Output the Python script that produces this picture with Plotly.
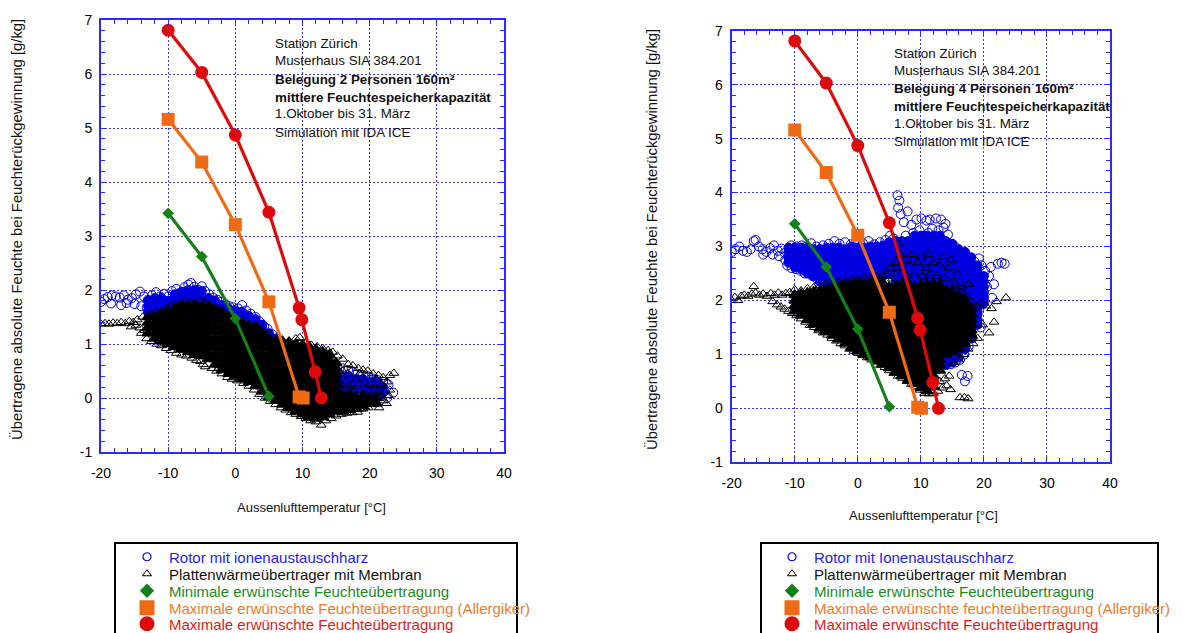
import plotly.graph_objects as go

W, H = 1196, 633          # reference picture size
OFF = 8                   # page body margin of the html page
FW, FH = W - OFF, H - OFF  # figure size so that it ends at the window edge
FONT = "Liberation Sans, Arial, sans-serif"

# ---------------- axes ----------------
x_tickvals = [-20, -10, 0, 10, 20, 30, 40]
x_ticktext = ["-20", "-10", "0", "10", "20", "30", "40"]
y_tickvals = [-1, 0, 1, 2, 3, 4, 5, 6, 7]
y_ticktext = ["-1", "0", "1", "2", "3", "4", "5", "6", "7"]

# ---------------- target curves (identical in both panels) ----------------
min_T = [-10, -5, 0, 5]
min_X = [3.42, 2.62, 1.47, 0.03]
allerg_T = [-10, -5, 0, 5, 9.5, 10.1]
allerg_X = [5.16, 4.37, 3.21, 1.78, 0.02, 0.0]
max_T = [-10, -5, 0, 5, 9.5, 9.9, 11.9, 12.8]
max_X = [6.81, 6.03, 4.87, 3.44, 1.67, 1.45, 0.48, 0.0]

# ---------------- LEFT panel: 2 persons ----------------
rotor_L_pts = [(-20,1.78),(-19.5,1.83),(-19,1.87),(-18.4,1.9),(-17.8,1.88),(-17.2,1.86),(-16.6,1.9),(-16,1.82),
    (-15.4,1.85),(-14.8,1.92),(-14.2,1.97),(-13.6,1.88),(-13,1.82),(-12.4,1.9),(-11.8,1.96),(-11.2,1.88),(-10.6,1.93),
    (-10,1.88),(-18.5,1.75),(-17,1.72),(-16.2,1.76),(-15,1.74),(-14,1.7),(-13.2,1.68),(-12.6,1.65),(-11.8,1.7),
    (-9.4,1.98),(-8.8,2.02),(-8.2,1.95),(-7.6,2.05),(-7.0,2.1),(-6.6,2.13),(-6.1,2.06),(-5.5,2.0),(-5.0,2.07),
    (-4.5,1.98),(-3.9,1.92),(-3.3,1.86),(-2.7,1.82),(-2.1,1.78),(-1.5,1.74),(-0.9,1.7),(-0.3,1.68),(0.4,1.66),
    (1.0,1.72),(1.6,1.62),(2.3,1.56),(3.0,1.5),(3.6,1.42),(4.3,1.32),(4.8,1.28),(5.5,1.18),(6.2,1.1),
    (11.8,0.8),(12.8,0.75),(13.8,0.7),(14.5,0.62),(15.2,0.58),(16,0.55),(16.8,0.52),(17.5,0.48),(18.2,0.45),
    (19,0.42),(19.8,0.4),(20.5,0.36),(21.2,0.33),(22,0.3),(22.8,0.25),(23.5,0.1),(22.2,0.12),(21.4,0.05),
    (20.6,0.0),(19.8,-0.02),(18.8,0.1),(17.8,0.2),(16.8,0.25),(15.8,0.3),(15,0.35),(16.3,0.05),(17.3,0.0),
    (18.3,0.3),(19.3,0.18),(20.3,0.22),(21.2,0.18),(22.6,0.0),(14.8,0.1),(15.6,-0.05),(15.5,0.45),(16.5,0.4),
    (17.5,0.35),(18.5,0.2),(19.5,0.3),(20.5,0.1),(21.7,0.22),(17,0.1),(18,0.05),(19,0.0)]
rotor_L_core = [(-13,[1.6,1.7,1.8]),(-12,[1.55,1.65,1.75,1.85]),(-11,[1.55,1.65,1.75,1.85]),(-10,[1.6,1.7,1.8]),
    (-9,[1.65,1.75,1.85,1.92]),(-8,[1.7,1.8,1.9,1.97]),(-7,[1.7,1.8,1.9,2.0]),(-6,[1.7,1.8,1.9,2.0]),
    (-5,[1.7,1.8,1.9,1.98]),(-4,[1.65,1.75,1.85]),(-3,[1.6,1.7,1.8]),(-2,[1.55,1.65,1.72]),(-1,[1.5,1.6,1.66]),
    (0,[1.45,1.55,1.62]),(1,[1.4,1.5,1.6]),(2,[1.35,1.45,1.52]),(3,[1.3,1.4,1.46]),(4,[1.2,1.3,1.36]),
    (5,[1.1,1.2]),(6,[1.02,1.1]),
    (15,[0.25,0.35,0.45]),(16,[0.2,0.3,0.4]),(17,[0.2,0.3,0.4]),(18,[0.15,0.25,0.35]),(19,[0.15,0.25,0.35]),
    (20,[0.1,0.2,0.3]),(21,[0.1,0.2,0.3]),(22,[0.1,0.2])]
platten_L_core = [(-13,[1.2,1.3,1.4,1.5]),(-12,[1.1,1.2,1.3,1.4,1.5]),(-11,[1.05,1.15,1.25,1.35,1.45,1.55]),
    (-10,[1.0,1.1,1.2,1.3,1.4,1.5,1.6]),(-9,[0.95,1.05,1.15,1.25,1.35,1.45,1.55,1.65]),
    (-8,[0.9,1.0,1.1,1.2,1.3,1.4,1.5,1.6,1.7]),(-7,[0.85,0.95,1.05,1.15,1.25,1.35,1.45,1.55,1.65,1.72]),
    (-6,[0.8,0.9,1.0,1.1,1.2,1.3,1.4,1.5,1.6,1.7]),(-5,[0.78,0.88,0.98,1.08,1.18,1.28,1.38,1.48,1.58,1.68]),
    (-4,[0.72,0.82,0.92,1.02,1.12,1.22,1.32,1.42,1.52,1.62,1.7]),
    (-3,[0.62,0.72,0.82,0.92,1.02,1.12,1.22,1.32,1.42,1.52,1.62]),
    (-2,[0.52,0.62,0.72,0.82,0.92,1.02,1.12,1.22,1.32,1.42,1.52,1.6]),
    (-1,[0.45,0.55,0.65,0.75,0.85,0.95,1.05,1.15,1.25,1.35,1.45,1.5]),
    (0,[0.4,0.5,0.6,0.7,0.8,0.9,1.0,1.1,1.2,1.3,1.4,1.45]),
    (1,[0.35,0.45,0.55,0.65,0.75,0.85,0.95,1.05,1.15,1.25,1.35,1.4]),
    (2,[0.3,0.4,0.5,0.6,0.7,0.8,0.9,1.0,1.1,1.2,1.3,1.35]),
    (3,[0.22,0.32,0.42,0.52,0.62,0.72,0.82,0.92,1.02,1.12,1.22,1.3]),
    (4,[0.12,0.22,0.32,0.42,0.52,0.62,0.72,0.82,0.92,1.02,1.12,1.2]),
    (5,[0.02,0.12,0.22,0.32,0.42,0.52,0.62,0.72,0.82,0.92,1.02,1.1]),
    (6,[-0.05,0.05,0.15,0.25,0.35,0.45,0.55,0.65,0.75,0.85,0.95,1.05]),
    (7,[-0.12,-0.02,0.08,0.18,0.28,0.38,0.48,0.58,0.68,0.78,0.88,0.98,1.05]),
    (8,[-0.18,-0.08,0.02,0.12,0.22,0.32,0.42,0.52,0.62,0.72,0.82,0.92,1.02]),
    (9,[-0.25,-0.15,-0.05,0.05,0.15,0.25,0.35,0.45,0.55,0.65,0.75,0.85,0.95,1.0]),
    (10,[-0.3,-0.2,-0.1,0.0,0.1,0.2,0.3,0.4,0.5,0.6,0.7,0.8,0.9,0.98]),
    (11,[-0.35,-0.25,-0.15,-0.05,0.05,0.15,0.25,0.35,0.45,0.55,0.65,0.75,0.85,0.95]),
    (12,[-0.38,-0.28,-0.18,-0.08,0.02,0.12,0.22,0.32,0.42,0.52,0.62,0.72,0.82,0.9]),
    (13,[-0.35,-0.25,-0.15,-0.05,0.05,0.15,0.25,0.35,0.45,0.55,0.65,0.75,0.85]),
    (14,[-0.3,-0.2,-0.1,0.0,0.1,0.2,0.3,0.4,0.5,0.6,0.7,0.8]),
    (15,[-0.25,-0.15,-0.05,0.05,0.15,0.25,0.35,0.45,0.55,0.65]),
    (16,[-0.25,-0.15,-0.05,0.05]),(17,[-0.22,-0.12,-0.02,0.08]),(18,[-0.2,-0.1,0.0]),
    (19,[-0.15,-0.05,0.05]),(20,[-0.1,0.0]),(21,[-0.1,0.0])]
platten_L_pts = [(-20,1.37),(-19.4,1.38),(-18.8,1.37),(-18.2,1.39),(-17.6,1.38),(-17,1.4),(-16.4,1.38),(-15.8,1.42),
    (-15.2,1.4),(-14.6,1.45),(-14.2,1.3),(-13.8,1.5),(-13.5,1.25),(-14.8,1.35),(-15.5,1.32),
    (-12.5,1.55),(-11.8,1.6),(-11,1.62),(-10.3,1.65),(-9.6,1.7),(-8.8,1.75),(-8,1.77),(-7.4,1.8),(-6.7,1.78),
    (-6,1.76),(-5.3,1.8),(-4.6,1.77),(-3.8,1.72),(-3,1.68),(-2.2,1.64),
    (-14,1.2),(-13.2,1.1),(-12.5,1.05),(-11.7,1.0),(-11,0.97),(-10.3,0.92),(-9.6,0.88),(-8.8,0.83),(-8,0.8),
    (-7.3,0.78),(-6.5,0.74),(-5.8,0.7),(-5.2,0.68),(-4.5,0.58),(-4.8,0.62),(-3.5,0.55),(-2.8,0.5),(-2,0.45),
    (-1.2,0.38),(-0.5,0.35),(0.3,0.32),(1.2,0.27),(2,0.22),(2.8,0.15),(3.6,0.07),(4.4,0.0),(5.2,-0.06),
    (6,-0.12),(6.8,-0.18),(7.5,-0.22),(8.3,-0.27),(9,-0.3),(9.8,-0.34),(10.5,-0.38),(11.2,-0.42),(12,-0.44),
    (12.8,-0.5),(13.5,-0.42),(14.3,-0.38),(15,-0.33),(15.8,-0.3),(16.6,-0.28),(17.4,-0.27),(18.2,-0.26),
    (19,-0.2),(19.8,-0.18),(20.6,-0.12),(21.4,-0.18),
    (3,1.35),(4,1.28),(5,1.2),(6,1.1),(7,1.07),(8,1.06),(9,1.1),(9.6,1.12),(10.5,1.02),(11.3,0.98),(12.2,0.95),
    (13,0.92),(13.8,0.88),(14.5,0.85),(15.2,0.78),(16,0.72),(16.8,0.62),(17.5,0.6),(18.3,0.55),(19,0.52),
    (19.7,0.5),(20.5,0.45),(21.3,0.42),(22,0.38),(23,0.42),(23.6,0.46),
    (16,0.5),(16.5,0.3),(17,0.1),(17.5,-0.1),(16,0.0),(15.5,0.2),(16.8,0.45),(17.3,0.25),(18,0.35),(18.5,0.15),
    (18.8,-0.05),(19.3,0.3),(19.6,0.05),(20,0.25),(20.3,-0.02),(20.8,0.2),(21.2,0.05),(21.7,0.25),(22.2,0.12),
    (22.6,0.3),(23,0.15),(15.4,0.5),(16.2,0.15),(17.8,0.02),(18.5,0.45),(19.5,-0.1),(21,0.35),(22.5,-0.1),
    (15.2,-0.1),(16.4,-0.15),(17.2,-0.2),(18,-0.12),(18.7,-0.2),(19.2,-0.08),(20,-0.1),(20.8,-0.05),(21.5,0.0),
    (22,-0.05),(16.8,-0.05),(15.8,0.1),(17.6,0.12),(19.8,0.12),(21.4,0.15),(22.8,0.05)]

# ---------------- RIGHT panel: 4 persons ----------------
rotor_R_pts = [(-20,2.9),(-19.4,2.95),(-18.8,3.0),(-18.2,2.92),(-17.6,2.9),(-17,2.95),(-16.5,3.1),(-16.2,3.12),
    (-15.7,3.0),(-15.1,2.95),(-14.5,2.9),(-13.9,2.97),(-13.3,3.02),(-12.7,2.92),(-12.1,2.96),(-11.6,2.88),
    (-15,2.85),(-13.5,2.85),(-12.5,2.82),(-11.5,2.75),(-11.2,2.65),(-10.5,2.6),(-9.8,2.58),(-9.1,2.55),
    (-8.4,2.5),(-7.8,2.55),(-7.2,2.45),(-6.5,2.4),(-6.1,2.3),(-10.6,3.02),(-9.7,3.0),(-8.9,3.02),(-8.2,3.0),
    (-7.4,3.06),(-6.6,3.0),(-5.5,3.02),(-4.6,3.05),(-3.7,3.1),(-2.9,3.05),(-2,3.08),(-1.1,3.04),(-0.2,3.1),
    (0.8,3.06),(1.7,3.1),(2.6,3.04),(3.5,3.08),(4.4,3.12),(5.1,3.2),(5.7,3.15),
    (6.3,3.95),(6.6,3.85),(6.4,3.72),(6.8,3.6),(7.9,3.65),(7.3,3.45),(8.5,3.4),(9.3,3.5),(10.1,3.52),(10.9,3.48),
    (11.4,3.5),(12.4,3.52),(13.2,3.5),(13.9,3.42),(13.6,3.35),(11.8,3.33),(12.8,3.3),(9.8,3.3),(8.8,3.25),
    (7.6,3.2),(10.5,3.2),(11.2,3.25),(12.2,3.2),(13.2,3.15),(14.3,3.22),(14.8,3.05),(15.4,3.0),(15.9,2.9),
    (16.5,2.85),(17.2,2.8),(17.8,2.75),(18.5,2.72),(19.2,2.78),(19.6,2.65),(20.2,2.55),(20.8,2.45),(21.1,2.62),
    (21.6,2.3),(22.2,2.68),(22.8,2.7),(23.3,2.68),(20.5,2.25),(21.3,2.05),(19.8,2.1),(19.3,1.85),(18.9,1.6),
    (19.5,1.5),(18.2,1.3),(17.6,1.15),(16.9,1.0),(16.2,0.9),(15.5,0.85),(14.8,0.82),(14.1,0.85),(13.5,0.95),
    (16.5,0.62),(17.4,0.6),(17,0.5)]
rotor_R_core = [(-11,[2.7,2.8,2.9,2.98]),(-10,[2.62,2.72,2.82,2.92,2.98]),(-9,[2.58,2.68,2.78,2.88,2.98]),
    (-8,[2.5,2.6,2.7,2.8,2.9,2.98]),(-7,[2.45,2.55,2.65,2.75,2.85,2.95]),(-6,[2.35,2.45,2.55,2.65,2.75,2.85,2.95]),
    (-5,[2.3,2.4,2.5,2.6,2.7,2.8,2.9,2.98]),(-4,[2.3,2.4,2.5,2.6,2.7,2.8,2.9,2.98]),
    (-3,[2.32,2.42,2.52,2.62,2.72,2.82,2.92,2.98]),(-2,[2.35,2.45,2.55,2.65,2.75,2.85,2.95]),
    (-1,[2.35,2.45,2.55,2.65,2.75,2.85,2.95,3.0]),(0,[2.38,2.48,2.58,2.68,2.78,2.88,2.98]),
    (1,[2.38,2.48,2.58,2.68,2.78,2.88,2.98]),(2,[2.4,2.5,2.6,2.7,2.8,2.9,3.0]),(3,[2.4,2.5,2.6,2.7,2.8,2.9,3.0]),
    (4,[2.45,2.55,2.65,2.75,2.85,2.95,3.02]),(5,[2.5,2.6,2.7,2.8,2.9,3.0,3.08]),
    (6,[2.3,2.4,2.5,2.6,2.7,2.8,2.9,3.0,3.1]),(7,[2.3,2.4,2.5,2.6,2.7,2.8,2.9,3.0,3.1]),
    (8,[2.3,2.4,2.5,2.6,2.7,2.8,2.9,3.0,3.1]),(9,[2.3,2.4,2.5,2.6,2.7,2.8,2.9,3.0,3.1,3.2]),
    (10,[2.3,2.4,2.5,2.6,2.7,2.8,2.9,3.0,3.1,3.2]),(11,[2.3,2.4,2.5,2.6,2.7,2.8,2.9,3.0,3.1,3.2]),
    (12,[2.3,2.4,2.5,2.6,2.7,2.8,2.9,3.0,3.1,3.2]),(13,[2.3,2.4,2.5,2.6,2.7,2.8,2.9,3.0,3.1,3.2]),
    (14,[0.8,0.9,1.0,1.1,1.2,1.3,1.4,1.5,1.6,1.7,1.8,1.9,2.0,2.1,2.2,2.3,2.4,2.5,2.6,2.7,2.8,2.9,3.0,3.1]),
    (15,[0.85,0.95,1.05,1.15,1.25,1.35,1.45,1.55,1.65,1.75,1.85,1.95,2.05,2.15,2.25,2.35,2.45,2.55,2.65,2.75,2.85,2.95,3.05]),
    (16,[0.95,1.05,1.15,1.25,1.35,1.45,1.55,1.65,1.75,1.85,1.95,2.05,2.15,2.25,2.35,2.45,2.55,2.65,2.75,2.85,2.95]),
    (17,[1.1,1.2,1.3,1.4,1.5,1.6,1.7,1.8,1.9,2.0,2.1,2.2,2.3,2.4,2.5,2.6,2.7,2.8,2.9]),
    (18,[1.3,1.4,1.5,1.6,1.7,1.8,1.9,2.0,2.1,2.2,2.3,2.4,2.5,2.6,2.7,2.8]),
    (19,[1.55,1.65,1.75,1.85,1.95,2.05,2.15,2.25,2.35,2.45,2.55,2.65]),
    (20,[1.95,2.05,2.15,2.25,2.35,2.45])]
platten_R_core = [(-10,[1.8,1.9,2.0,2.1]),(-9,[1.72,1.82,1.92,2.02,2.12]),(-8,[1.64,1.74,1.84,1.94,2.04,2.14]),
    (-7,[1.56,1.66,1.76,1.86,1.96,2.06,2.16]),(-6,[1.48,1.58,1.68,1.78,1.88,1.98,2.08,2.18]),
    (-5,[1.42,1.52,1.62,1.72,1.82,1.92,2.02,2.12,2.2]),(-4,[1.35,1.45,1.55,1.65,1.75,1.85,1.95,2.05,2.15,2.22]),
    (-3,[1.28,1.38,1.48,1.58,1.68,1.78,1.88,1.98,2.08,2.18,2.25]),
    (-2,[1.2,1.3,1.4,1.5,1.6,1.7,1.8,1.9,2.0,2.1,2.2,2.28]),
    (-1,[1.12,1.22,1.32,1.42,1.52,1.62,1.72,1.82,1.92,2.02,2.12,2.22,2.3]),
    (0,[1.06,1.16,1.26,1.36,1.46,1.56,1.66,1.76,1.86,1.96,2.06,2.16,2.26,2.32]),
    (1,[1.0,1.1,1.2,1.3,1.4,1.5,1.6,1.7,1.8,1.9,2.0,2.1,2.2,2.3]),
    (2,[0.95,1.05,1.15,1.25,1.35,1.45,1.55,1.65,1.75,1.85,1.95,2.05,2.15,2.25,2.32]),
    (3,[0.88,0.98,1.08,1.18,1.28,1.38,1.48,1.58,1.68,1.78,1.88,1.98,2.08,2.18,2.28,2.35]),
    (4,[0.82,0.92,1.02,1.12,1.22,1.32,1.42,1.52,1.62,1.72,1.82,1.92,2.02,2.12,2.22,2.32]),
    (5,[0.75,0.85,0.95,1.05,1.15,1.25,1.35,1.45,1.55,1.65,1.75,1.85,1.95,2.05,2.15,2.25]),
    (6,[0.68,0.78,0.88,0.98,1.08,1.18,1.28,1.38,1.48,1.58,1.68,1.78,1.88,1.98,2.08,2.18,2.28]),
    (7,[0.6,0.7,0.8,0.9,1.0,1.1,1.2,1.3,1.4,1.5,1.6,1.7,1.8,1.9,2.0,2.1,2.2,2.3]),
    (8,[0.52,0.62,0.72,0.82,0.92,1.02,1.12,1.22,1.32,1.42,1.52,1.62,1.72,1.82,1.92,2.02,2.12,2.22,2.3]),
    (9,[0.45,0.55,0.65,0.75,0.85,0.95,1.05,1.15,1.25,1.35,1.45,1.55,1.65,1.75,1.85,1.95,2.05,2.15,2.25]),
    (10,[0.38,0.48,0.58,0.68,0.78,0.88,0.98,1.08,1.18,1.28,1.38,1.48,1.58,1.68,1.78,1.88,1.98,2.08,2.18,2.28]),
    (11,[0.32,0.42,0.52,0.62,0.72,0.82,0.92,1.02,1.12,1.22,1.32,1.42,1.52,1.62,1.72,1.82,1.92,2.02,2.12,2.22,2.3]),
    (12,[0.4,0.5,0.6,0.7,0.8,0.9,1.0,1.1,1.2,1.3,1.4,1.5,1.6,1.7,1.8,1.9,2.0,2.1,2.2,2.3]),
    (13,[0.7,0.8,0.9,1.0,1.1,1.2,1.3,1.4,1.5,1.6,1.7,1.8,1.9,2.0,2.1,2.2,2.28]),
    (14,[1.0,1.1,1.2,1.3,1.4,1.5,1.6,1.7,1.8,1.9,2.0,2.1,2.2]),
    (15,[1.05,1.15,1.25,1.35,1.45,1.55,1.65,1.75,1.85,1.95,2.05,2.15]),
    (16,[1.1,1.2,1.3,1.4,1.5,1.6,1.7,1.8,1.9,2.0,2.08]),
    (17,[1.2,1.3,1.4,1.5,1.6,1.7,1.8,1.9,2.0]),
    (18,[1.35,1.45,1.55,1.65,1.75,1.85])]
platten_R_pts = [(-20,2.0),(-19.5,2.06),(-19,2.0),(-18.5,2.08),(-18,2.1),(-17.4,2.08),(-16.8,2.12),(-16.5,2.26),
    (-16.2,2.14),(-15.6,2.1),(-15,2.12),(-14.4,2.08),(-13.8,2.13),(-13.2,2.1),(-12.6,2.14),(-12,2.1),(-11.4,2.13),
    (-10.8,2.15),(-13.5,1.98),(-12.8,1.92),(-12.2,1.88),(-11.6,1.84),(-11,1.8),(-10.4,1.76),(-9.7,1.72),(-9,1.66),
    (-8.3,1.6),(-7.6,1.54),(-6.9,1.5),(-6.2,1.44),(-5.5,1.4),(-4.8,1.36),(-4.1,1.3),(-3.4,1.25),(-2.7,1.2),
    (-2,1.16),(-1.3,1.1),(-0.6,1.06),(0.1,1.02),(0.8,0.98),(1.5,0.94),(2.2,0.9),(2.9,0.86),(3.6,0.8),(4.3,0.76),
    (5,0.7),(5.7,0.65),(6.4,0.6),(7.1,0.56),(7.8,0.5),(8.5,0.45),(9.2,0.4),(9.9,0.34),(10.6,0.28),(11.3,0.27),
    (12,0.28),(12.7,0.32),(13.4,0.38),(14.1,0.42),(14.7,0.35),(16.2,0.2),(16.9,0.2),(17.5,0.18),
    (-10,2.2),(-9,2.18),(-8,2.22),(-7,2.24),(-6,2.27),(-5,2.3),(-4,2.32),(-3,2.34),(-2,2.36),(-1,2.38),(0,2.4),
    (1,2.42),(2,2.4),(3,2.44),(4,2.46),
    (4.5,2.45),(5.2,2.6),(5.5,2.4),(6,2.7),(6.2,2.5),(6.5,3.05),(6.8,2.85),(7,2.6),(7.5,2.75),(7.8,2.45),
    (8.2,2.65),(8.6,2.85),(9,2.5),(9.5,2.7),(10,2.8),(10.3,2.45),(10.8,2.6),(11.2,2.85),(11.6,2.5),(12,2.7),
    (12.5,2.45),(13,2.65),(13.5,2.8),(13.8,2.4),(14.3,2.6),(14.8,2.75),(15.2,2.35),(15.8,2.5),(16.4,2.25),
    (17,2.1),(17.6,2.3),
    (15.5,2.3),(16.3,2.15),(17,2.05),(18,1.98),(18.8,1.9),(19.5,1.95),(20.3,1.9),(21.2,1.85),(22,1.98),
    (23.5,2.05),(20.8,1.4),(21.6,1.6),(19.8,1.55),(19,1.3),(18.3,1.2),(17.5,1.1),(16.8,1.0),(16,0.9),
    (15.2,0.85),(14.5,0.6),(13.8,0.55),(13,0.5)]

# ---------------- texts ----------------
info_L = ["Station Zürich", "Musterhaus SIA 384.201", "<b>Belegung 2 Personen 160m²</b>",
          "<b>mittlere Feuchtespeicherkapazität</b>", "1.Oktober bis 31. März", "Simulation mit IDA ICE"]
info_R = ["Station Zürich", "Musterhaus SIA 384.201", "<b>Belegung 4 Personen 160m²</b>",
          "<b>mittlere Feuchtespeicherkapazität</b>", "1.Oktober bis 31. März", "Simulation mit IDA ICE"]
legend_L = ["Rotor mit ionenaustauschharz", "Plattenwärmeübertrager mit Membran",
            "Minimale erwünschte Feuchteübertragung",
            "Maximale erwünschte Feuchteübertragung (Allergiker)", "Maximale erwünschte Feuchteübertragung"]
legend_R = ["Rotor mit Ionenaustauschharz", "Plattenwärmeübertrager mit Membran",
            "Minimale erwünschte Feuchteübertragung",
            "Maximale erwünschte feuchteübertragung (Allergiker)", "Maximale erwünschte Feuchteübertragung"]
y_title = "Übertragene absolute Feuchte bei Feuchterückgewinnung [g/kg]"
x_title = "Aussenlufttemperatur [°C]"

# ---------------- styling ----------------
BLUE = "#0000e0"
AX = "#2a2aff"
GRID = "#3a3af0"
GREEN = "#14801a"
ORANGE = "#f06a14"
RED = "#de0a0a"
TXTC = ["#2222ee", "#111111", "#1f8a1f", "#f07a2a", "#e01a1a"]


def from_pts(pts):
    return [p[0] for p in pts], [p[1] for p in pts]


def from_cols(cols):
    xs, ys = [], []
    for x, yl in cols:
        for y in yl:
            xs.append(x)
            ys.append(y)
    return xs, ys


def px_x(v):
    return (v - OFF) / FW


def px_y(v):
    return 1 - (v - OFF) / FH


fig = go.Figure()


def add_panel(xa, ya, rotor_core, rotor_pts, plat_core, plat_pts):
    x, y = from_cols(rotor_core)
    fig.add_trace(go.Scatter(x=x, y=y, mode="markers", xaxis=xa, yaxis=ya, showlegend=False,
                             marker=dict(symbol="circle", size=9, color=BLUE, line=dict(width=1, color=BLUE))))
    x, y = from_pts(rotor_pts)
    fig.add_trace(go.Scatter(x=x, y=y, mode="markers", xaxis=xa, yaxis=ya, showlegend=False,
                             marker=dict(symbol="circle-open", size=9, color=BLUE, line=dict(width=1, color=BLUE))))
    x, y = from_cols(plat_core)
    fig.add_trace(go.Scatter(x=x, y=y, mode="markers", xaxis=xa, yaxis=ya, showlegend=False,
                             marker=dict(symbol="triangle-up", size=10, color="black",
                                         line=dict(width=1.5, color="black"))))
    x, y = from_pts(plat_pts)
    fig.add_trace(go.Scatter(x=x, y=y, mode="markers", xaxis=xa, yaxis=ya, showlegend=False,
                             marker=dict(symbol="triangle-up-open", size=8.5, color="black",
                                         line=dict(width=1, color="black"))))
    fig.add_trace(go.Scatter(x=min_T, y=min_X, mode="lines+markers", xaxis=xa, yaxis=ya, showlegend=False,
                             line=dict(color=GREEN, width=3.2),
                             marker=dict(symbol="diamond", size=9, color=GREEN)))
    fig.add_trace(go.Scatter(x=allerg_T, y=allerg_X, mode="lines+markers", xaxis=xa, yaxis=ya, showlegend=False,
                             line=dict(color=ORANGE, width=3.2),
                             marker=dict(symbol="square", size=13, color=ORANGE)))
    fig.add_trace(go.Scatter(x=max_T, y=max_X, mode="lines+markers", xaxis=xa, yaxis=ya, showlegend=False,
                             line=dict(color=RED, width=3.2),
                             marker=dict(symbol="circle", size=13, color=RED)))


add_panel("x", "y", rotor_L_core, rotor_L_pts, platten_L_core, platten_L_pts)
add_panel("x2", "y2", rotor_R_core, rotor_R_pts, platten_R_core, platten_R_pts)

# legend entries (marker only), one legend per row to match the row spacing
leg_markers = [
    dict(symbol="circle-open", size=8, color=BLUE, line=dict(width=1.2, color=BLUE)),
    dict(symbol="triangle-up-open", size=8, color="black", line=dict(width=1, color="black")),
    dict(symbol="diamond", size=11, color=GREEN),
    dict(symbol="square", size=15, color=ORANGE),
    dict(symbol="circle", size=15, color=RED),
]
row_px = [557, 574, 591, 608, 624]
legends = {}
for side, (names, xa, ya, mx) in enumerate([(legend_L, "x", "y", 147), (legend_R, "x2", "y2", 792)]):
    for i, name in enumerate(names):
        k = side * 5 + i + 1
        key = "legend" if k == 1 else f"legend{k}"
        fig.add_trace(go.Scatter(x=[None], y=[None], mode="markers", xaxis=xa, yaxis=ya, name=name,
                                 legend=key, showlegend=True, marker=leg_markers[i]))
        legends[key] = dict(x=px_x(mx - 22), y=px_y(row_px[i]), xanchor="left", yanchor="middle",
                            itemwidth=34, bgcolor="rgba(0,0,0,0)", borderwidth=0,
                            font=dict(family=FONT, size=15, color=TXTC[i]))


def axis(domain, rng, tv, tt, mdtick, standoff):
    return dict(domain=domain, range=rng, tickmode="array", tickvals=tv, ticktext=tt,
                showline=True, linecolor=AX, linewidth=2, mirror="allticks",
                ticks="inside", ticklen=5, tickwidth=1, tickcolor=AX,
                showgrid=True, gridcolor=GRID, griddash="2px,2px", gridwidth=1,
                zeroline=False, ticklabelstandoff=standoff,
                tickfont=dict(family=FONT, size=14, color="black"),
                minor=dict(tickmode="linear", tick0=rng[0], dtick=mdtick, ticks="inside", ticklen=4,
                           tickcolor=AX, tickwidth=1, showgrid=False),
                fixedrange=True)


layout = dict(
    width=FW, height=FH, margin=dict(l=0, r=0, t=0, b=0, autoexpand=False),
    paper_bgcolor="white", plot_bgcolor="white",
    font=dict(family=FONT, size=13, color="black"),
    xaxis=dict(anchor="y", **axis([px_x(101), px_x(504)], [-20, 40], x_tickvals, x_ticktext, 2, 7)),
    yaxis=dict(anchor="x", **axis([px_y(452), px_y(20)], [-1, 7], y_tickvals, y_ticktext, 0.2, 4)),
    xaxis2=dict(anchor="y2", **axis([px_x(731.7), px_x(1110)], [-20, 40], x_tickvals, x_ticktext, 2, 7)),
    yaxis2=dict(anchor="x2", **axis([px_y(462.3), px_y(30.7)], [-1, 7], y_tickvals, y_ticktext, 0.2, 4)),
)
layout.update(legends)
fig.update_layout(**layout)

shapes = []
# white boxes behind the info text
for (x0, x1, y0, y1) in [(270, 495, 35, 106), (270, 419, 124, 141), (887, 1102, 45, 115), (887, 1029, 133, 150)]:
    shapes.append(dict(type="rect", xref="paper", yref="paper", x0=px_x(x0), x1=px_x(x1), y0=px_y(y1), y1=px_y(y0),
                       fillcolor="white", line=dict(width=0), layer="between"))
# legend frames (cut off by the bottom edge)
for (x0, x1) in [(115, 517), (761, 1158)]:
    shapes.append(dict(type="rect", xref="paper", yref="paper", x0=px_x(x0), x1=px_x(x1), y0=px_y(700),
                       y1=px_y(543), line=dict(color="black", width=2), fillcolor="rgba(0,0,0,0)"))
fig.update_layout(shapes=shapes)

ann = []
for lines, x0, ys in [(info_L, 273, [43.3, 61, 79.3, 97.3, 114, 132]),
                      (info_R, 892, [53.3, 70.5, 88.3, 106, 123.3, 141])]:
    for t, yy in zip(lines, ys):
        ann.append(dict(text=t, xref="paper", yref="paper", x=px_x(x0), y=px_y(yy), xanchor="left",
                        yanchor="middle", showarrow=False, font=dict(family=FONT, size=13.4, color="#111111")))
for xx, yy in [(17, 230), (652, 240)]:
    ann.append(dict(text=y_title, xref="paper", yref="paper", x=px_x(xx), y=px_y(yy), textangle=-90,
                    xanchor="center", yanchor="middle", showarrow=False,
                    font=dict(family=FONT, size=14.8, color="#111111")))
for xx, yy in [(311.5, 507), (923.5, 515)]:
    ann.append(dict(text=x_title, xref="paper", yref="paper", x=px_x(xx), y=px_y(yy),
                    xanchor="center", yanchor="middle", showarrow=False,
                    font=dict(family=FONT, size=13, color="#111111")))
fig.update_layout(annotations=ann)

fig.write_html("out.html")
